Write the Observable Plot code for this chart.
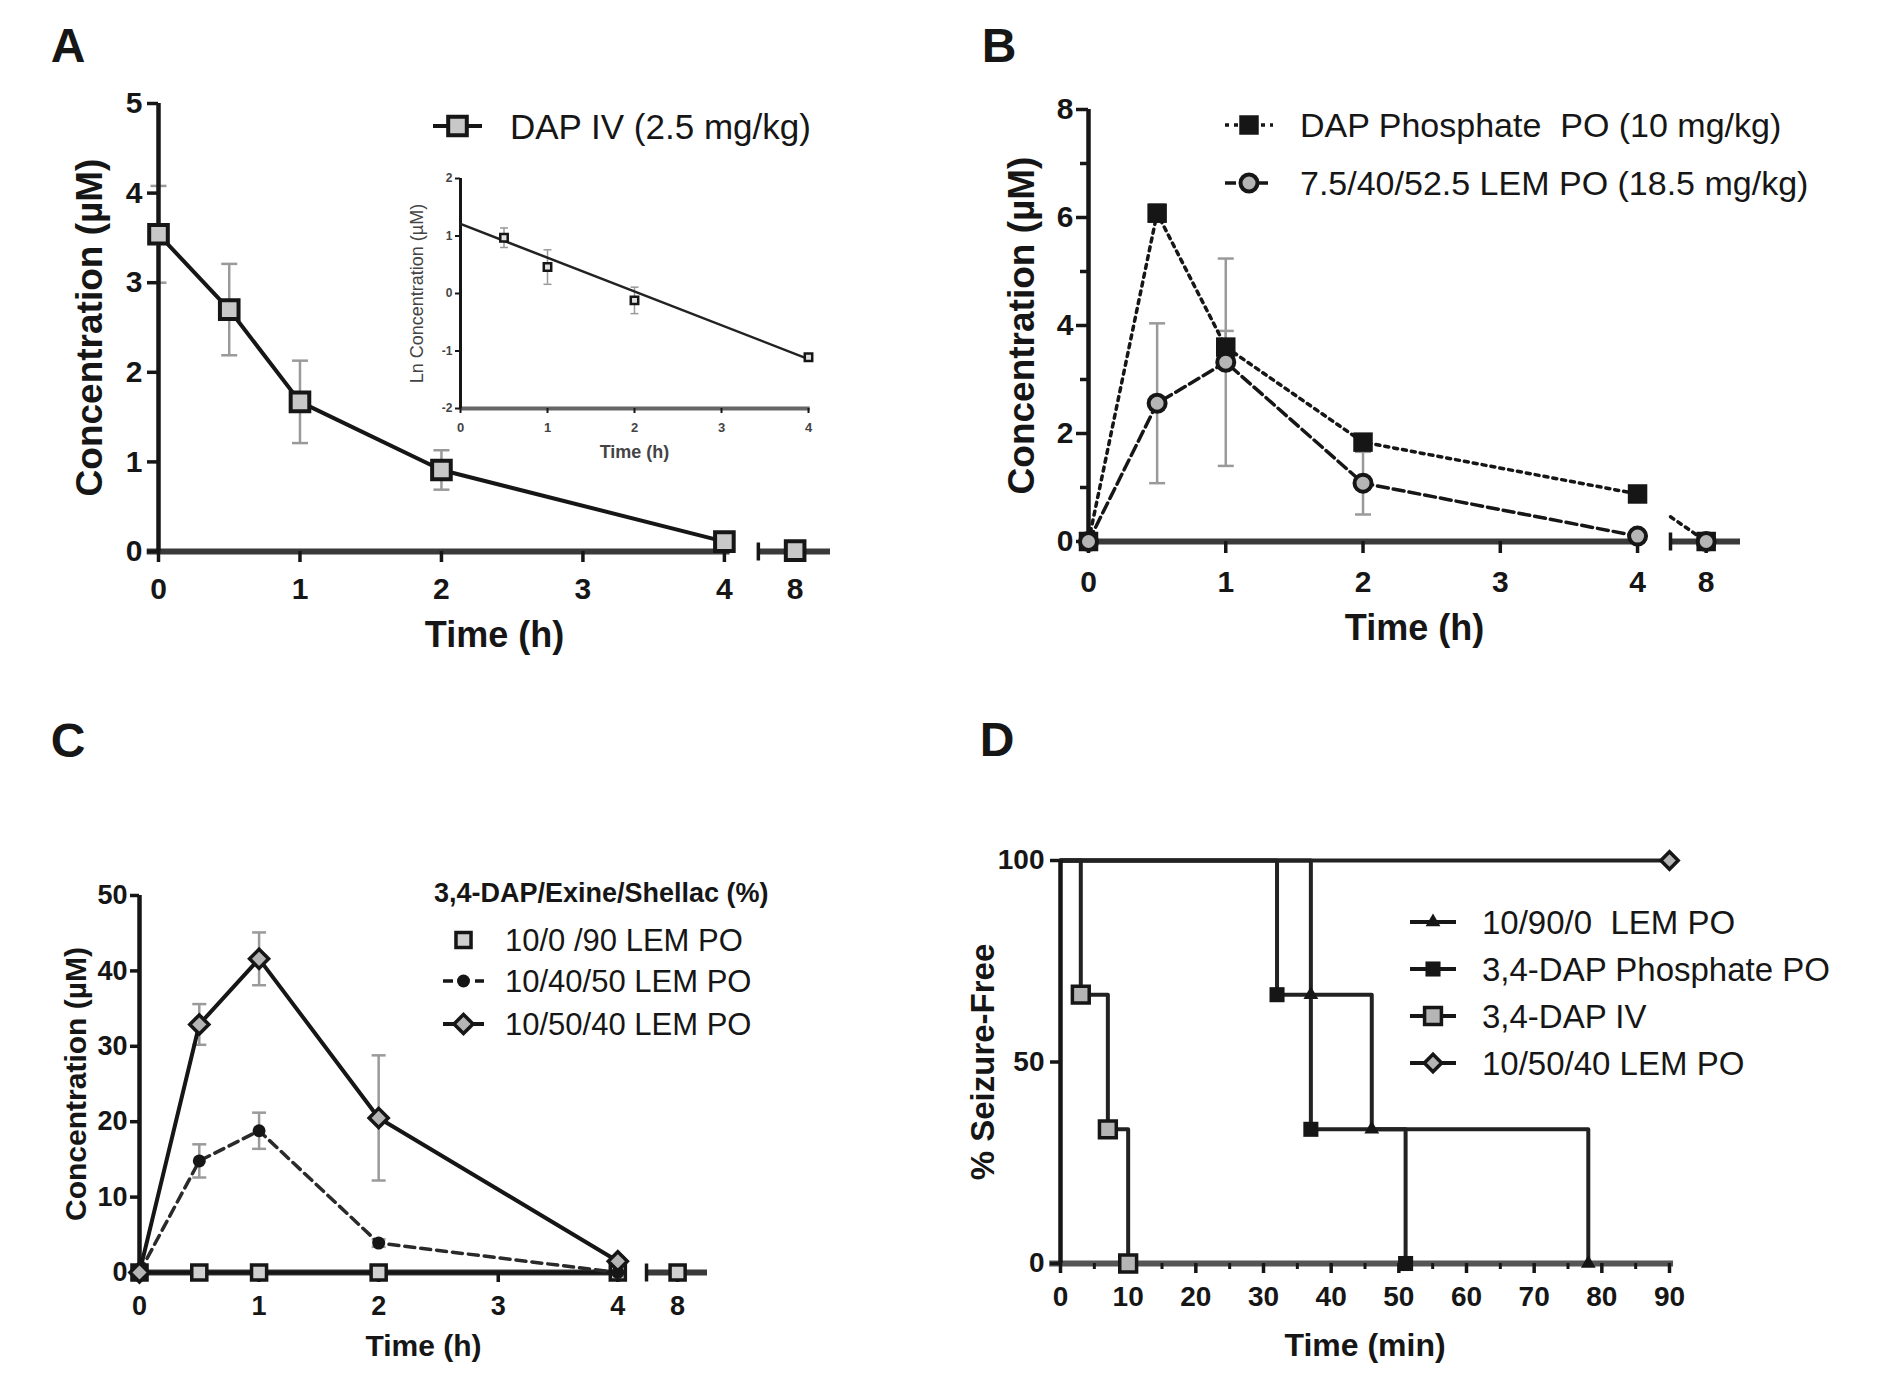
<!DOCTYPE html>
<html><head><meta charset="utf-8">
<script src="https://cdn.jsdelivr.net/npm/d3@7"></script>
<script src="https://cdn.jsdelivr.net/npm/@observablehq/plot@0.6"></script>
<style>
html,body{margin:0;padding:0;background:#fff;}
#page{position:relative;width:1890px;height:1397px;background:#fff;font-family:"Liberation Sans",Arial,Helvetica,sans-serif;color:#161616;overflow:hidden;}
.lbl{position:absolute;font-weight:bold;line-height:1;transform:translate(-50%,-50%);}
.leg{position:absolute;display:flex;align-items:center;white-space:pre;line-height:1;}
.legtitle{position:absolute;font-weight:bold;line-height:1;white-space:pre;transform:translateY(-50%);}
</style></head><body><div id="page"></div>
<script>
// ================= DATA =================
// Panel A – DAP IV (2.5 mg/kg)
const timesA = [0, 0.5, 1, 2, 4, 8];
const dapIV = [3.54, 2.70, 1.67, 0.91, 0.11, 0.01];
const dapIVErr = [0.54, 0.51, 0.46, 0.22, 0.08, 0];
// Panel A inset – ln concentration
const insetTimes = [0.5, 1, 2, 4];
const insetLnConc = [0.97, 0.46, -0.12, -1.11];
const insetLnErr = [0.17, 0.30, 0.23, 0.04];
const insetFitTimes = [0, 4];
const insetFitLn = [1.21, -1.14];
const legendA = ["DAP IV (2.5 mg/kg)"];

// Panel B
const timesB = [0, 0.5, 1, 2, 4, 8];
const dapPhosphatePO = [0, 6.08, 3.60, 1.84, 0.88, 0];
const dapPhosphateErr = [0, 0.16, 0.30, 0, 0, 0];
const lem75PO = [0, 2.56, 3.32, 1.08, 0.10, 0];
const lem75Err = [0, 1.48, 1.92, 0.58, 0, 0];
const legendB = ["DAP Phosphate  PO (10 mg/kg)", "7.5/40/52.5 LEM PO (18.5 mg/kg)"];

// Panel C
const timesC = [0, 0.5, 1, 2, 4, 8];
const lem10_0_90 = [0, 0, 0, 0, 0, 0];
const lem10_40_50 = [0, 14.8, 18.8, 3.9, 0, null];
const lem10_40_50Err = [0, 2.2, 2.4, 0.5, 0, null];
const lem10_50_40 = [0, 32.9, 41.6, 20.5, 1.5, null];
const lem10_50_40Err = [0, 2.7, 3.5, 8.3, 0.5, null];
const legendCTitle = "3,4-DAP/Exine/Shellac (%)";
const legendC = ["10/0 /90 LEM PO", "10/40/50 LEM PO", "10/50/40 LEM PO"];

// Panel D – Kaplan–Meier (% seizure-free)
const kmLem90Times = [0, 37, 46, 78];
const kmLem90 = [100, 66.7, 33.3, 0];
const kmPhosTimes = [0, 32, 37, 51];
const kmPhos = [100, 66.7, 33.3, 0];
const kmIVTimes = [0, 3, 7, 10];
const kmIV = [100, 66.7, 33.3, 0];
const kmLem50Times = [0, 90];
const kmLem50 = [100, 100];
const legendD = ["10/90/0  LEM PO", "3,4-DAP Phosphate PO", "3,4-DAP IV", "10/50/40 LEM PO"];

// Tick values
const hourTicks = [0, 1, 2, 3, 4, 8];
const concTicksA = [0, 1, 2, 3, 4, 5];
const concTicksB = [0, 2, 4, 6, 8];
const concMinorB = [1, 3, 5, 7];
const concTicksC = [0, 10, 20, 30, 40, 50];
const lnTicks = [-2, -1, 0, 1, 2];
const insetHourTicks = [0, 1, 2, 3, 4];
const minTicksD = [0, 10, 20, 30, 40, 50, 60, 70, 80, 90];
const minMinorD = [5, 15, 25, 35, 45, 55, 65, 75, 85];
const pctTicksD = [0, 50, 100];

// ================= STYLE / HELPERS =================
const W = 1890, H = 1397;
const INK = "#161616", AXIS_X = "#3a3a3a", ERR = "#9a9a9a";
const FONT = "'Liberation Sans', Arial, Helvetica, sans-serif";
const BREAK = {at: 4.5, gapStart: 4.04, gapEnd: 4.24, axisEnd: 4.75};
const pos = t => t === 8 ? BREAK.at : t;
const hourLabel = new Map(hourTicks.map(t => [pos(t), String(t)]));
const hourFmt = v => hourLabel.get(v);
const plain = v => String(v);
const page = document.getElementById("page");
const baseStyle = {position: "absolute", left: "0px", top: "0px", background: "transparent", fontFamily: FONT, color: INK, overflow: "visible"};
const frame = (l, r, t, b) => ({width: W, height: H, marginLeft: l, marginRight: W - r, marginTop: t, marginBottom: H - b});
const cap = {draw(ctx, size) { const w = Math.sqrt(size / Math.PI); ctx.moveTo(-w, 0); ctx.lineTo(w, 0); }};
const vbar = {draw(ctx, size) { const w = Math.sqrt(size / Math.PI); ctx.moveTo(0, -w); ctx.lineTo(0, w); }};
const mk = (times, vals, errs) => times.map((t, i) => ({t, px: pos(t), v: vals[i], e: errs ? errs[i] : 0})).filter(d => d.v != null);

function errorBars(rows, r, sw, x = "px") {
  const R = rows.filter(d => d.e > 0);
  return [
    Plot.ruleX(R, {x, y1: d => d.v - d.e, y2: d => d.v + d.e, stroke: ERR, strokeWidth: sw}),
    Plot.dot(R, {x, y: d => d.v + d.e, symbol: cap, r, stroke: ERR, strokeWidth: sw, fill: "none"}),
    Plot.dot(R, {x, y: d => d.v - d.e, symbol: cap, r, stroke: ERR, strokeWidth: sw, fill: "none"})
  ];
}
function hourAxisLine(start) {
  return [
    Plot.ruleY([{x1: start, x2: BREAK.gapStart}, {x1: BREAK.gapEnd, x2: BREAK.axisEnd}], {x1: "x1", x2: "x2", y: 0, stroke: AXIS_X, strokeWidth: 6}),
    Plot.dot([BREAK.gapEnd], {x: d => d, y: 0, symbol: vbar, r: 9, stroke: INK, strokeWidth: 3.5, fill: "none"})
  ];
}
function bridge(rows) {
  const a = rows.find(d => d.t === 4), b = rows.find(d => d.t === 8);
  const f = (BREAK.gapEnd - a.px) / (b.px - a.px);
  return [{px: BREAK.gapEnd, v: a.v + f * (b.v - a.v)}, {px: b.px, v: b.v}];
}
const title = (txt, o) => Plot.text([txt], {text: d => d, fontWeight: "bold", lineAnchor: "middle", textAnchor: "middle", ...o});
function mount(svg) { page.appendChild(svg); }

// ================= PANEL A =================
const rowsA = mk(timesA, dapIV, dapIVErr);
mount(Plot.plot({
  ...frame(158, 830, 103, 551), style: baseStyle,
  x: {domain: [0, BREAK.axisEnd]}, y: {domain: [0, 5]},
  marks: [
    ...errorBars(rowsA, 8, 2.5),
    ...hourAxisLine(-0.08),
    Plot.ruleX([0], {y1: 0, y2: 5, stroke: INK, strokeWidth: 4.5}),
    Plot.axisY(concTicksA, {tickFormat: plain, tickSize: 11, tickPadding: 5, fontSize: 30, fontWeight: "bold", strokeWidth: 3.5, label: null}),
    Plot.axisX(hourTicks.map(pos), {tickFormat: hourFmt, tickSize: 11, tickPadding: 15, fontSize: 30, fontWeight: "bold", strokeWidth: 3.5, label: null}),
    Plot.line(rowsA.filter(d => d.t <= 4), {x: "px", y: "v", stroke: INK, strokeWidth: 4}),
    Plot.dot(rowsA, {x: "px", y: "v", symbol: "square", r: 10.5, fill: "#c8c8c8", stroke: INK, strokeWidth: 4}),
    title("Concentration (µM)", {frameAnchor: "left", dx: -68, rotate: -90, fontSize: 37}),
    title("Time (h)", {frameAnchor: "bottom", dy: 84, fontSize: 36})
  ]
}));

// Inset
const insetRows = insetTimes.map((t, i) => ({t, v: insetLnConc[i], e: insetLnErr[i]}));
const insetFit = insetFitTimes.map((t, i) => ({t, v: insetFitLn[i]}));
mount(Plot.plot({
  ...frame(460, 808, 178, 408), style: baseStyle,
  x: {domain: [0, 4]}, y: {domain: [-2, 2]},
  marks: [
    ...errorBars(insetRows, 4, 1.5, "t"),
    Plot.ruleY([-2], {x1: 0, x2: 4.02, stroke: "#666", strokeWidth: 4}),
    Plot.ruleX([0], {y1: -2, y2: 2, stroke: INK, strokeWidth: 3}),
    Plot.axisY(lnTicks, {tickFormat: plain, tickSize: 5, tickPadding: 3, fontSize: 12, fontWeight: "bold", strokeWidth: 2, fill: "#444", label: null}),
    Plot.axisX(insetHourTicks, {tickFormat: plain, tickSize: 5, tickPadding: 9, fontSize: 13, fontWeight: "bold", strokeWidth: 2, fill: "#444", label: null}),
    Plot.line(insetFit, {x: "t", y: "v", stroke: "#222", strokeWidth: 2.5}),
    Plot.dot(insetRows, {x: "t", y: "v", symbol: "square", r: 4.2, fill: "#e0e0e0", stroke: INK, strokeWidth: 2.5}),
    Plot.text(["Ln Concentration (µM)"], {text: d => d, frameAnchor: "left", dx: -43, rotate: -90, fontSize: 18, fill: "#444", lineAnchor: "middle", textAnchor: "middle"}),
    title("Time (h)", {frameAnchor: "bottom", dy: 44, fontSize: 18, fill: "#444"})
  ]
}));

// ================= PANEL B =================
const rowsBdap = mk(timesB, dapPhosphatePO, dapPhosphateErr);
const rowsBlem = mk(timesB, lem75PO, lem75Err);
mount(Plot.plot({
  ...frame(1088, 1740, 109, 541), style: baseStyle,
  x: {domain: [0, BREAK.axisEnd]}, y: {domain: [0, 8]},
  marks: [
    ...errorBars(rowsBlem, 8, 2.5),
    ...errorBars(rowsBdap, 8, 2.5),
    ...hourAxisLine(-0.06),
    Plot.ruleX([0], {y1: 0, y2: 8, stroke: INK, strokeWidth: 4.5}),
    Plot.axisY(concTicksB, {tickFormat: plain, tickSize: 12, tickPadding: 3, fontSize: 30, fontWeight: "bold", strokeWidth: 3.5, label: null}),
    Plot.axisY(concMinorB, {tickSize: 8, tickFormat: () => "", strokeWidth: 3.5, label: null}),
    Plot.axisX(hourTicks.map(pos), {tickFormat: hourFmt, tickSize: 12, tickPadding: 17, fontSize: 30, fontWeight: "bold", strokeWidth: 3.5, label: null}),
    Plot.line(rowsBdap.filter(d => d.t <= 4), {x: "px", y: "v", stroke: INK, strokeWidth: 3.5, strokeDasharray: "4,5"}),
    Plot.line(bridge(rowsBdap), {x: "px", y: "v", stroke: INK, strokeWidth: 3.5, strokeDasharray: "4,5"}),
    Plot.line(rowsBlem.filter(d => d.t <= 4), {x: "px", y: "v", stroke: INK, strokeWidth: 3.5, strokeDasharray: "11,5"}),
    Plot.dot(rowsBdap, {x: "px", y: "v", symbol: "square", r: 11, fill: INK}),
    Plot.dot(rowsBlem, {x: "px", y: "v", symbol: "circle", r: 8.5, fill: "#b5b5b5", stroke: INK, strokeWidth: 4}),
    title("Concentration (µM)", {frameAnchor: "left", dx: -66, rotate: -90, fontSize: 37}),
    title("Time (h)", {frameAnchor: "bottom", dy: 87, fontSize: 36})
  ]
}));

// ================= PANEL C =================
const rowsC0 = mk(timesC, lem10_0_90);
const rowsC40 = mk(timesC, lem10_40_50, lem10_40_50Err);
const rowsC50 = mk(timesC, lem10_50_40, lem10_50_40Err);
mount(Plot.plot({
  ...frame(139, 707, 895, 1272), style: baseStyle,
  x: {domain: [0, BREAK.axisEnd]}, y: {domain: [0, 50]},
  marks: [
    ...errorBars(rowsC40, 7, 2.5),
    ...errorBars(rowsC50, 7, 2.5),
    ...hourAxisLine(-0.07),
    Plot.ruleX([0], {y1: 0, y2: 50, stroke: INK, strokeWidth: 4.5}),
    Plot.axisY(concTicksC, {tickFormat: plain, tickSize: 9, tickPadding: 3, fontSize: 27, fontWeight: "bold", strokeWidth: 3.5, label: null}),
    Plot.axisX(hourTicks.map(pos), {tickFormat: hourFmt, tickSize: 10, tickPadding: 13, fontSize: 27, fontWeight: "bold", strokeWidth: 3.5, label: null}),
    Plot.line(rowsC0.filter(d => d.t <= 4), {x: "px", y: "v", stroke: INK, strokeWidth: 4}),
    Plot.line(rowsC40.filter(d => d.t <= 4), {x: "px", y: "v", stroke: "#2a2a2a", strokeWidth: 3.5, strokeDasharray: "10,6"}),
    Plot.line(rowsC50.filter(d => d.t <= 4), {x: "px", y: "v", stroke: INK, strokeWidth: 4}),
    Plot.dot(rowsC0, {x: "px", y: "v", symbol: "square", r: 8.5, fill: "#d0d0d0", stroke: INK, strokeWidth: 3.5}),
    Plot.dot(rowsC40, {x: "px", y: "v", symbol: "circle", r: 6.5, fill: INK}),
    Plot.dot(rowsC50, {x: "px", y: "v", symbol: "diamond2", r: 8.6, fill: "#b5b5b5", stroke: INK, strokeWidth: 3.5}),
    title("Concentration (µM)", {frameAnchor: "left", dx: -63, rotate: -90, fontSize: 30}),
    title("Time (h)", {frameAnchor: "bottom", dy: 74, fontSize: 30})
  ]
}));

// ================= PANEL D =================
const km = (times, vals) => times.map((t, i) => ({t, v: vals[i]}));
const kmA = km(kmLem90Times, kmLem90), kmB = km(kmPhosTimes, kmPhos), kmC = km(kmIVTimes, kmIV), kmDd = km(kmLem50Times, kmLem50);
const stepOpts = {x: "t", y: "v", curve: "step-after", stroke: "#222", strokeWidth: 4};
mount(Plot.plot({
  ...frame(1060, 1669, 860, 1263), style: baseStyle,
  x: {domain: [0, 90]}, y: {domain: [0, 100]},
  marks: [
    Plot.ruleY([0], {x1: -1.6, x2: 90.6, stroke: "#555", strokeWidth: 6}),
    Plot.axisX(minMinorD, {tickSize: 6, tickFormat: () => "", strokeWidth: 3, label: null}),
    Plot.axisX(minTicksD, {tickFormat: plain, tickSize: 10, tickPadding: 13, fontSize: 28, fontWeight: "bold", strokeWidth: 3.5, label: null}),
    Plot.axisY(pctTicksD, {tickFormat: plain, tickSize: 10, tickPadding: 6, fontSize: 28, fontWeight: "bold", strokeWidth: 3.5, label: null}),
    Plot.line(kmDd, stepOpts),
    Plot.line(kmA, stepOpts),
    Plot.line(kmB, stepOpts),
    Plot.line(kmC, stepOpts),
    Plot.ruleX([0], {y1: 0, y2: 100, stroke: INK, strokeWidth: 4.5}),
    Plot.dot(kmC.slice(1), {x: "t", y: "v", symbol: "square", r: 9.5, fill: "#b5b5b5", stroke: INK, strokeWidth: 3.5}),
    Plot.dot(kmB.slice(1), {x: "t", y: "v", symbol: "square", r: 8.5, fill: INK}),
    Plot.dot(kmA.slice(1), {x: "t", y: "v", symbol: "triangle", r: 5.5, fill: INK}),
    Plot.dot(kmDd.slice(1), {x: "t", y: "v", symbol: "diamond2", r: 7.8, fill: "#b5b5b5", stroke: INK, strokeWidth: 3.5}),
    title("% Seizure-Free", {frameAnchor: "left", dx: -77, rotate: -90, fontSize: 33}),
    title("Time (min)", {frameAnchor: "bottom", dy: 82, fontSize: 32})
  ]
}));

// ================= LABELS & LEGENDS =================
function panelLabel(txt, x, y) {
  const d = document.createElement("div"); d.className = "lbl"; d.textContent = txt;
  d.style.left = x + "px"; d.style.top = y + "px"; d.style.fontSize = "48px"; page.appendChild(d);
}
panelLabel("A", 68, 46); panelLabel("B", 999, 46); panelLabel("C", 68, 741); panelLabel("D", 997, 740);

const SYMBOLS = {square: d3.symbolSquare, circle: d3.symbolCircle, diamond2: d3.symbolDiamond2, triangle: d3.symbolTriangle};
function legendItem({x1, x2, y, symbol, r, fill, stroke = INK, sw = 0, line = true, dash = null, lw = 4, text, textX, fontSize}) {
  const div = document.createElement("div"); div.className = "leg";
  div.style.left = x1 + "px"; div.style.top = (y - 25) + "px"; div.style.height = "50px";
  const w = x2 - x1;
  const svg = d3.create("svg").attr("width", w).attr("height", 50).style("flex", "none").style("overflow", "visible");
  if (line) svg.append("line").attr("x1", 0).attr("x2", w).attr("y1", 25).attr("y2", 25)
    .attr("stroke", INK).attr("stroke-width", lw).attr("stroke-dasharray", dash);
  svg.append("path").attr("transform", `translate(${w / 2},25)`).attr("d", d3.symbol(SYMBOLS[symbol], Math.PI * r * r)())
    .attr("fill", fill).attr("stroke", sw ? stroke : "none").attr("stroke-width", sw);
  div.appendChild(svg.node());
  const span = document.createElement("span"); span.textContent = text;
  span.style.fontSize = fontSize + "px"; span.style.marginLeft = (textX - x2) + "px";
  div.appendChild(span); page.appendChild(div);
}
// A
legendItem({x1: 433, x2: 482, y: 126, symbol: "square", r: 10.5, fill: "#c8c8c8", sw: 4, text: legendA[0], textX: 510, fontSize: 35});
// B
legendItem({x1: 1225, x2: 1273, y: 125, symbol: "square", r: 11, fill: INK, dash: "4,5", lw: 3.5, text: legendB[0], textX: 1300, fontSize: 34});
legendItem({x1: 1225, x2: 1273, y: 183, symbol: "circle", r: 8.5, fill: "#b5b5b5", sw: 4, dash: "11,5", lw: 3.5, text: legendB[1], textX: 1300, fontSize: 34});
// C
const ct = document.createElement("div"); ct.className = "legtitle"; ct.textContent = legendCTitle;
ct.style.left = "434px"; ct.style.top = "893px"; ct.style.fontSize = "27px"; page.appendChild(ct);
legendItem({x1: 443, x2: 484, y: 940, symbol: "square", r: 8.5, fill: "#d0d0d0", sw: 3.5, line: false, text: legendC[0], textX: 505, fontSize: 31});
legendItem({x1: 443, x2: 484, y: 981, symbol: "circle", r: 6.5, fill: INK, dash: "10,6", lw: 3.5, text: legendC[1], textX: 505, fontSize: 31});
legendItem({x1: 443, x2: 484, y: 1024, symbol: "diamond2", r: 8.6, fill: "#b5b5b5", sw: 3.5, text: legendC[2], textX: 505, fontSize: 31});
// D
legendItem({x1: 1410, x2: 1456, y: 922, symbol: "triangle", r: 5.5, fill: INK, text: legendD[0], textX: 1482, fontSize: 33});
legendItem({x1: 1410, x2: 1456, y: 969, symbol: "square", r: 8.5, fill: INK, text: legendD[1], textX: 1482, fontSize: 33});
legendItem({x1: 1410, x2: 1456, y: 1016, symbol: "square", r: 9.5, fill: "#b5b5b5", sw: 3.5, text: legendD[2], textX: 1482, fontSize: 33});
legendItem({x1: 1410, x2: 1456, y: 1063, symbol: "diamond2", r: 7.8, fill: "#b5b5b5", sw: 3.5, text: legendD[3], textX: 1482, fontSize: 33});
</script></body></html>
